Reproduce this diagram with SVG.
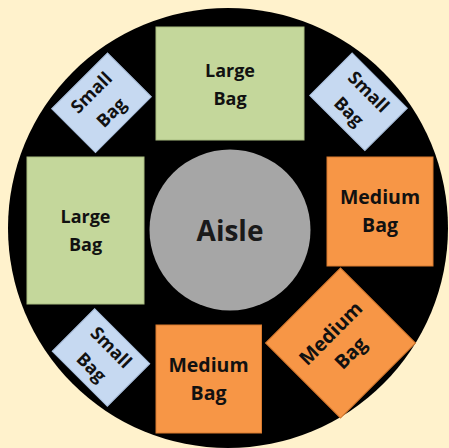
<svg xmlns="http://www.w3.org/2000/svg" width="449" height="448" viewBox="0 0 449 448">
  <style>
    .large { fill: #c4d79b; stroke: #a9bd80; stroke-width: 1; }
    .medium { fill: #f79646; stroke: #d97a2e; stroke-width: 1; }
    .small { fill: #c6d9f1; stroke: #a9bfdc; stroke-width: 1; }
    .label { font-family: "Open Sans", "Liberation Sans", sans-serif; font-weight: bold; font-size: 18px; fill: #111; text-anchor: middle; }
    .med { font-size: 19.5px; }
    .aisle-label { font-family: "Open Sans", "Liberation Sans", sans-serif; font-weight: bold; font-size: 28px; fill: #1a1a1a; text-anchor: middle; }
  </style>

  <!-- backdrop and floor -->
  <rect x="0" y="0" width="449" height="448" fill="#fff2cc"/>
  <circle id="floor" cx="228" cy="228" r="220" fill="#000"/>

  <g id="connectors"/>

  <!-- central aisle -->
  <g id="aisle">
    <circle cx="230" cy="230" r="80.5" fill="#a6a6a6"/>
    <text class="aisle-label" x="230" y="241">Aisle</text>
  </g>

  <!-- large bags -->
  <g id="large-top">
    <rect class="large" x="156" y="27" width="148" height="113"/>
    <text class="label" x="230" y="77">Large</text>
    <text class="label" x="230" y="105">Bag</text>
  </g>
  <g id="large-left">
    <rect class="large" x="27" y="157" width="117" height="147"/>
    <text class="label" x="85.5" y="223">Large</text>
    <text class="label" x="85.5" y="251">Bag</text>
  </g>

  <!-- medium bags -->
  <g id="medium-right">
    <rect class="medium" x="327" y="157" width="106" height="109"/>
    <text class="label med" x="380" y="204">Medium</text>
    <text class="label med" x="380" y="232">Bag</text>
  </g>
  <g id="medium-bottom">
    <rect class="medium" x="156" y="325" width="105.5" height="108"/>
    <text class="label med" x="208.5" y="372">Medium</text>
    <text class="label med" x="208.5" y="400">Bag</text>
  </g>
  <g id="medium-diag" transform="translate(340.5 343) rotate(-45)">
    <rect class="medium" x="-53" y="-53" width="106" height="106"/>
    <text class="label med" x="0" y="-7">Medium</text>
    <text class="label med" x="0" y="21">Bag</text>
  </g>

  <!-- small bags -->
  <g id="small-top-left" transform="translate(101.5 102.8) rotate(-45)">
    <rect class="small" x="-39.5" y="-31" width="79" height="62"/>
    <text class="label" x="0" y="-8">Small</text>
    <text class="label" x="0" y="20">Bag</text>
  </g>
  <g id="small-top-right" transform="translate(358.5 101.8) rotate(45)">
    <rect class="small" x="-39" y="-30" width="78" height="60"/>
    <text class="label" x="0" y="-8">Small</text>
    <text class="label" x="0" y="20">Bag</text>
  </g>
  <g id="small-bottom-left" transform="translate(101 357.5) rotate(45)">
    <rect class="small" x="-39" y="-30" width="78" height="60"/>
    <text class="label" x="0" y="-8">Small</text>
    <text class="label" x="0" y="20">Bag</text>
  </g>
</svg>
